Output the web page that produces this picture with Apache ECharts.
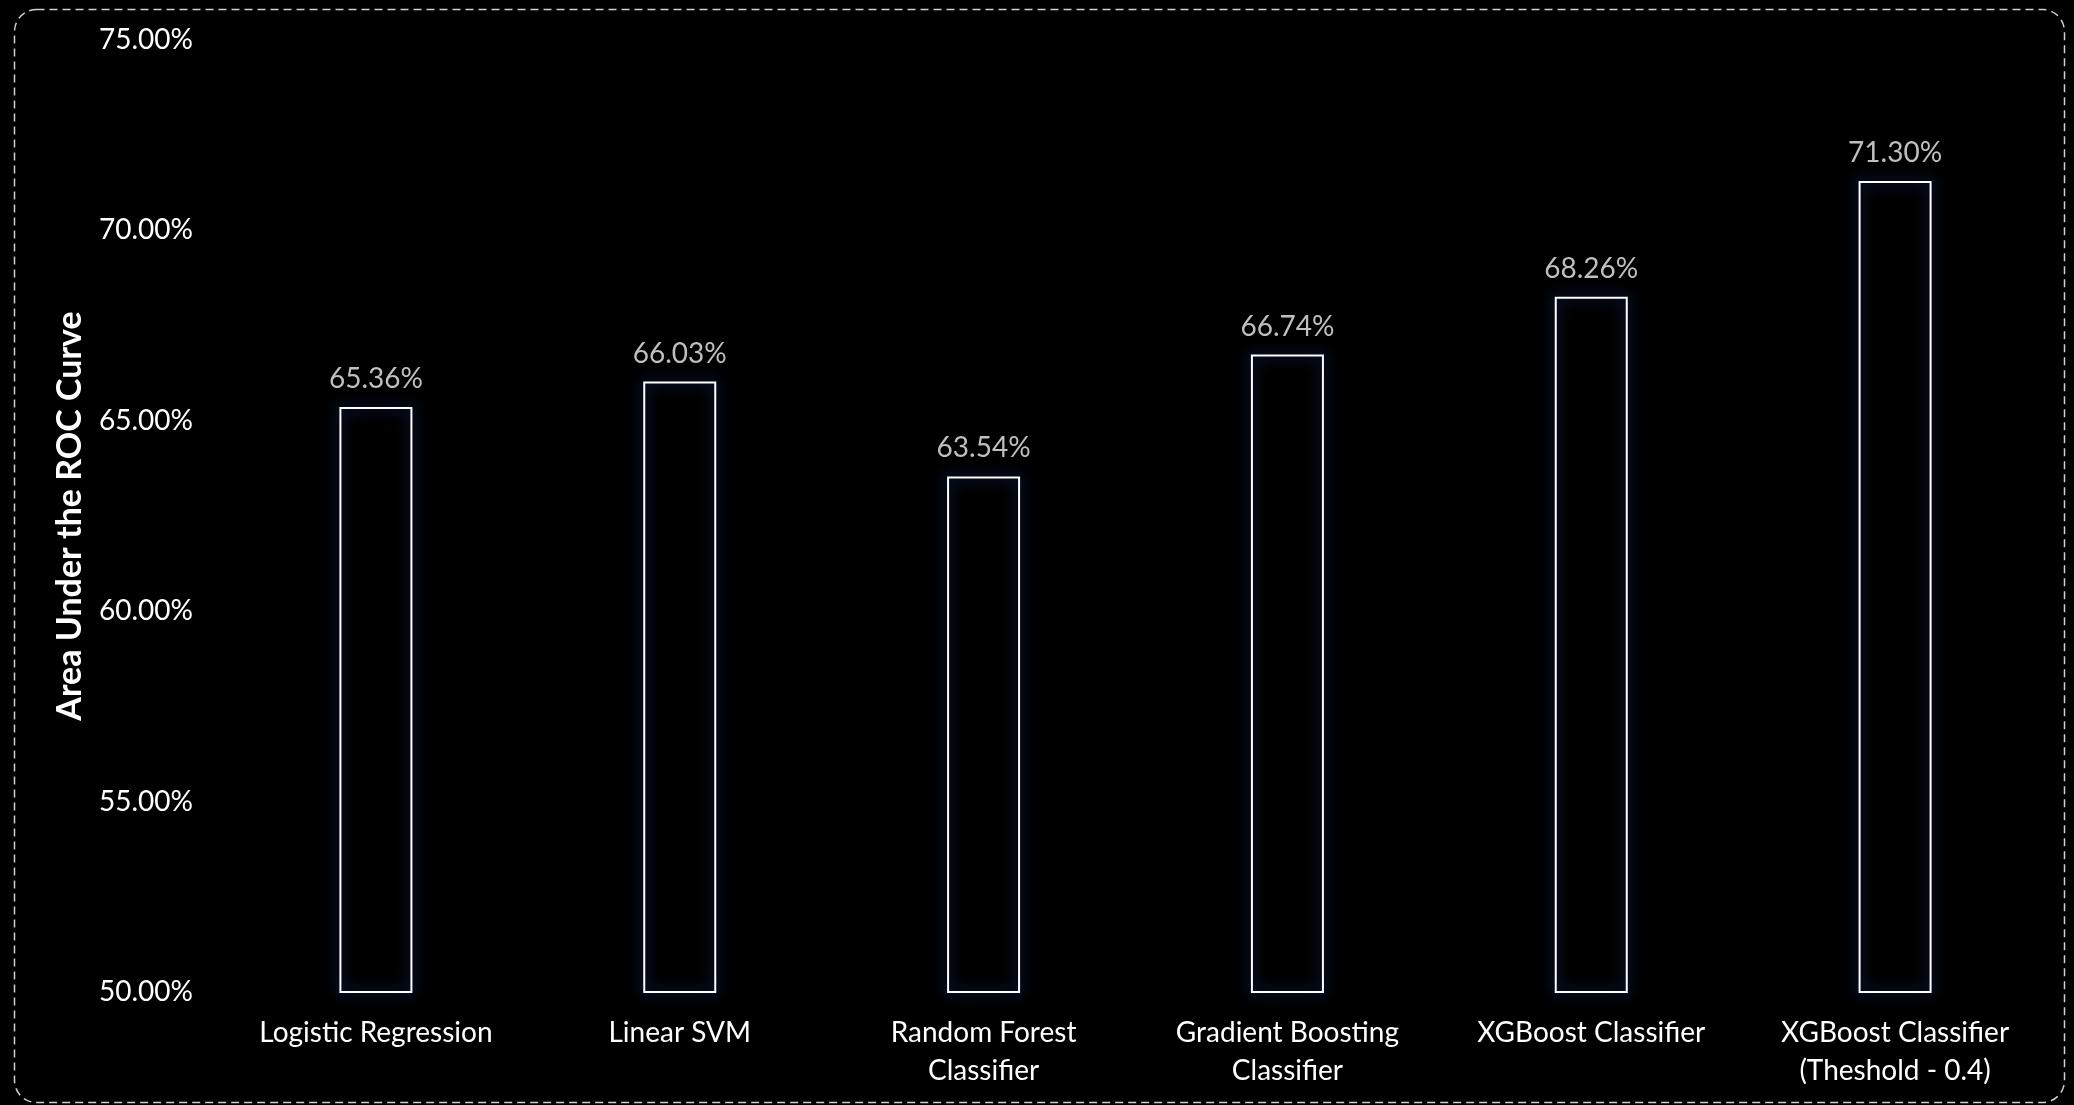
<!DOCTYPE html>
<html><head><meta charset="utf-8">
<script src="https://cdn.jsdelivr.net/npm/echarts@6/dist/echarts.min.js"></script>
<style>html,body{margin:0;padding:0;background:#000;}#c{width:2074px;height:1105px;}</style>
</head><body><div id="c"></div>
<script>
const categories = ['Logistic Regression','Linear SVM','Random Forest\nClassifier','Gradient Boosting\nClassifier','XGBoost Classifier','XGBoost Classifier\n(Theshold - 0.4)'];
const aucValues = [65.36, 66.03, 63.54, 66.74, 68.26, 71.30];
const yMin = 50, yMax = 75, yStep = 5;
const yTitle = 'Area Under the ROC Curve';
const FONT = 'Lato';

const chart = echarts.init(document.getElementById('c'), null, {renderer:'canvas'});
chart.setOption({
  backgroundColor:'#000',
  animation:false,
  graphic:[{type:'rect', left:12, top:7, shape:{width:2050, height:1093, r:22}, z:-1,
    style:{fill:'none', stroke:'#d0d0d0', lineWidth:1.5, lineDash:[8,5]}}],
  grid:{left:224, right:27, top:40, bottom:113, containLabel:false},
  xAxis:{type:'category', data:categories,
    axisLine:{show:false}, axisTick:{show:false},
    axisLabel:{color:'#ffffff', fontFamily:FONT, fontSize:28, lineHeight:38, margin:22, interval:0}},
  yAxis:{type:'value', min:yMin, max:yMax, interval:yStep,
    name:yTitle, nameLocation:'middle', nameGap:137, nameRotate:90,
    nameTextStyle:{color:'#ffffff', fontFamily:FONT, fontSize:34, fontWeight:'bold'},
    splitLine:{show:false}, axisLine:{show:false}, axisTick:{show:false},
    axisLabel:{color:'#ffffff', fontFamily:FONT, fontSize:28, margin:31,
      formatter:v=>v.toFixed(2)+'%'}},
  series:[{type:'bar', data:aucValues, barWidth:73,
    itemStyle:{color:'rgba(0,0,0,0)', borderColor:'#ffffff', borderWidth:2,
      shadowBlur:14, shadowColor:'rgba(20,70,170,1)'},
    label:{show:true, position:'top', distance:14, color:'#bfbfbf', fontFamily:FONT, fontSize:28,
      formatter:p=>p.value.toFixed(2)+'%'}}]
});
</script></body></html>
